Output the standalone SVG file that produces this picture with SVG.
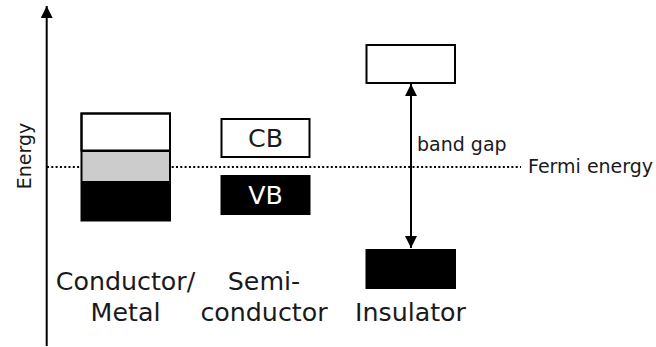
<svg xmlns="http://www.w3.org/2000/svg" width="656" height="347" viewBox="0 0 656 347">
  <style>
    .lbl { font-family: "DejaVu Sans", Verdana, sans-serif; fill: #1a1a1a; }
    .big { font-size: 25.3px; text-anchor: middle; }
    .small { font-size: 19px; }
    .band { stroke: #000; stroke-width: 2; }
    .conn { stroke: #000; stroke-width: 2; fill: none; }
  </style>
  <defs>
    <marker id="arrow" viewBox="0 0 12 12" refX="12" refY="6" markerWidth="12" markerHeight="12" markerUnits="userSpaceOnUse" orient="auto-start-reverse">
      <path d="M0,0 L12,6 L0,12 Z" fill="#000"/>
    </marker>
  </defs>
  <rect width="656" height="347" fill="#fff"/>

  <!-- energy axis -->
  <g id="axis">
    <line class="conn" x1="46.7" y1="346" x2="46.7" y2="6" marker-end="url(#arrow)"/>
    <text class="lbl small" transform="translate(31,156) rotate(-90)" text-anchor="middle">Energy</text>
  </g>

  <!-- Fermi level -->
  <g id="fermi">
    <line x1="47" y1="167" x2="521" y2="167" stroke="#000" stroke-width="2" stroke-dasharray="2 2.3"/>
    <text class="lbl small" x="528" y="172.5">Fermi energy</text>
  </g>

  <!-- conductor / metal: overlapping bands -->
  <g id="conductor">
    <rect x="81.5" y="113.5" width="88.5" height="107" fill="#000"/>
    <rect class="band" x="81.5" y="113.5" width="88.5" height="37" fill="#fff"/>
    <rect x="81.5" y="151.5" width="88.5" height="29.5" fill="#cccccc"/>
    <rect class="band" x="81.5" y="113.5" width="88.5" height="107" fill="none"/>
    <line x1="81.5" y1="151" x2="170" y2="151" stroke="#000" stroke-width="2"/>
    <text class="lbl big" x="125.5" y="290">Conductor/</text>
    <text class="lbl big" x="125.5" y="321">Metal</text>
  </g>

  <!-- semiconductor: CB and VB -->
  <g id="semiconductor">
    <rect class="band" x="221.5" y="119" width="88" height="38" fill="#fff"/>
    <text class="lbl big" x="265.5" y="147.2">CB</text>
    <rect x="220.5" y="175" width="90" height="40" fill="#000"/>
    <text class="lbl big" x="265.5" y="204.2" style="fill:#fff">VB</text>
    <text class="lbl big" x="264" y="290">Semi-</text>
    <text class="lbl big" x="264" y="321">conductor</text>
  </g>

  <!-- insulator: wide gap -->
  <g id="insulator">
    <rect class="band" x="366.5" y="45" width="88.5" height="38" fill="#fff"/>
    <rect x="365.5" y="249" width="90.5" height="40" fill="#000"/>
    <text class="lbl big" x="410.5" y="321">Insulator</text>
  </g>

  <!-- band gap arrow -->
  <g id="connectors">
    <line class="conn" x1="411" y1="248" x2="411" y2="84" marker-start="url(#arrow)" marker-end="url(#arrow)"/>
    <text class="lbl small" x="417" y="151">band gap</text>
  </g>
</svg>
